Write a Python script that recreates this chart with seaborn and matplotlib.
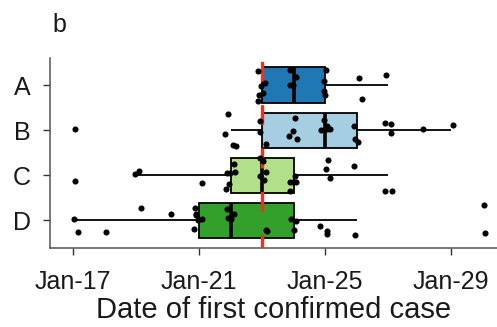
import numpy as np
import pandas as pd
import matplotlib
matplotlib.use("Agg")
import matplotlib.pyplot as plt
from matplotlib.ticker import FixedLocator, FuncFormatter
import seaborn as sns

# Day in January of the first confirmed case, per region
regions = ["A", "B", "C", "D"]
days_a = [23, 23, 23, 23, 23, 23, 24, 24, 24, 24, 25, 25, 25, 25, 26, 26, 27]
days_b = [17, 22, 22, 22, 22, 23, 23, 23, 24, 24, 24, 24, 25, 25, 25, 25, 25,
          26, 26, 26, 27, 27, 27, 28, 29]
days_c = [17, 19, 19, 21, 22, 22, 22, 22, 22, 22, 23, 23, 23, 23, 23,
          24, 24, 24, 24, 24, 25, 25, 25, 26, 27, 27]
days_d = [17, 17, 18, 19, 20, 21, 21, 21, 21, 21, 21, 22, 22, 22, 22,
          23, 23, 24, 24, 24, 25, 25, 25, 26, 30, 30]
reference_day = 23
tick_days = [17, 21, 25, 29]
colors = ["#1f78b4", "#a6cee3", "#b2df8a", "#33a02c"]

df = pd.DataFrame({
    "region": sum([[r] * len(d) for r, d in
                   zip(regions, [days_a, days_b, days_c, days_d])], []),
    "day": days_a + days_b + days_c + days_d,
})

sns.set_style("ticks")
plt.rcParams["font.family"] = ["Liberation Sans", "DejaVu Sans"]

fig = plt.figure(figsize=(4.97, 3.27), dpi=100)
ax = fig.add_axes([50 / 497, 1 - 247.5 / 327, 1 - 50 / 497, (247.5 - 58) / 327])

sns.boxplot(data=df, x="day", y="region", hue="region", order=regions,
            palette=colors, saturation=1, legend=False, width=0.78, whis=1.5,
            showfliers=False, showcaps=False, ax=ax,
            boxprops=dict(edgecolor="black", linewidth=1.3),
            whiskerprops=dict(color="black", linewidth=1.3),
            medianprops=dict(color="black", linewidth=2.6))

ax.axvline(reference_day, color="#ff2a1a", linewidth=2.4,
           linestyle=(2, (6, 7)), zorder=3)

np.random.seed(7)
sns.stripplot(data=df, x="day", y="region", order=regions, color="black",
              size=4.4, jitter=0.38, linewidth=0, ax=ax, zorder=4)
# small horizontal jitter so same-day points stay visible
rng = np.random.default_rng(3)
for coll in ax.collections:
    off = coll.get_offsets()
    if len(off) and coll.get_zorder() == 4:
        off = np.asarray(off).copy()
        off[:, 0] += rng.uniform(-0.17, 0.17, len(off))
        coll.set_offsets(off)

ax.set_xlim(16.27, 30.45)
ax.set_ylim(3.6, -0.6)
ax.xaxis.set_major_locator(FixedLocator(tick_days))
ax.xaxis.set_major_formatter(FuncFormatter(lambda v, p: f"Jan-{int(v)}"))
ax.set_xlabel("Date of first confirmed case", fontsize=21, color="#1a1a1a",
              labelpad=2)
ax.set_ylabel("")
ax.tick_params(axis="x", labelsize=18, colors="#333333", length=5,
               width=1, labelcolor="#1a1a1a", pad=11)
ax.tick_params(axis="y", labelsize=18, colors="#333333", length=5,
               width=1, labelcolor="#1a1a1a", pad=9)
for side in ("top", "right"):
    ax.spines[side].set_visible(False)
for side in ("left", "bottom"):
    ax.spines[side].set_color("#555555")
    ax.spines[side].set_linewidth(1.1)

fig.text(52 / 497, 1 - 32 / 327, "b", fontsize=18, color="#1a1a1a")

fig.savefig("out.png", dpi=100)
